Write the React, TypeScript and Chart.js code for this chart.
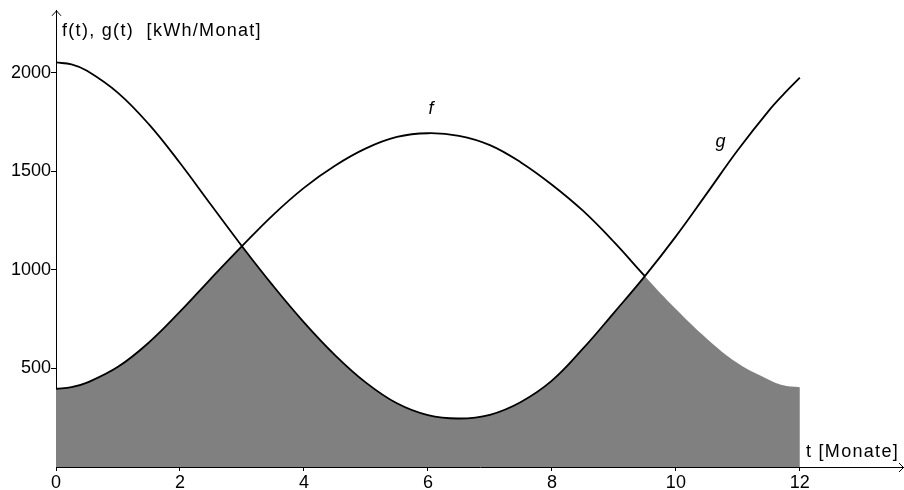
import { useEffect, useRef } from 'react';
import { Chart, registerables } from 'chart.js';

Chart.register(...registerables);

// months t
const tValues = [0, 0.25, 0.5, 1, 1.5, 2, 2.5, 3, 3.5, 4, 4.5, 5, 5.5, 6, 6.5, 7, 7.5, 8, 8.5, 9, 9.5, 10, 10.5, 11, 11.5, 11.75, 12];
// f(t) [kWh/Monat]
const fValues = [397, 405, 428, 508, 632, 788, 956, 1120, 1278, 1416, 1528, 1616, 1674, 1693, 1680, 1633, 1545, 1432, 1300, 1142, 968, 801, 651, 526, 443, 413, 405];
// g(t) [kWh/Monat]
const gValues = [2052, 2042, 2010, 1898, 1738, 1542, 1330, 1120, 920, 734, 568, 428, 323, 263, 246, 265, 330, 438, 600, 782, 968, 1170, 1388, 1608, 1808, 1895, 1975];

const xTickValues = [0, 2, 4, 6, 8, 10, 12];
const yTickValues = [500, 1000, 1500, 2000];
const fStrokeEnd = 9.5; // f is drawn only up to the second intersection

const FONT = '"Liberation Sans", Arial, Helvetica, sans-serif';

function tracePath(ctx: CanvasRenderingContext2D, pts: any[], y0: number) {
  ctx.beginPath();
  ctx.moveTo(pts[0].x, pts[0].y);
  for (let i = 1; i < pts.length; i++) {
    const p = pts[i - 1];
    const c = pts[i];
    ctx.bezierCurveTo(p.cp2x, p.cp2y, c.cp1x, c.cp1y, c.x, c.y);
  }
  ctx.lineTo(pts[pts.length - 1].x, y0);
  ctx.lineTo(pts[0].x, y0);
  ctx.closePath();
}

const fillPlugin = {
  id: 'minFill',
  beforeDatasetsDraw(chart: any) {
    const ctx = chart.ctx;
    const area = chart.chartArea;
    const y0 = chart.scales.y.getPixelForValue(0);
    const fm = chart.getDatasetMeta(0);
    const gm = chart.getDatasetMeta(1);
    fm.dataset.updateControlPoints(area, 'x');
    gm.dataset.updateControlPoints(area, 'x');
    ctx.save();
    tracePath(ctx, fm.data, y0);
    ctx.clip();
    tracePath(ctx, gm.data, y0);
    ctx.fillStyle = '#808080';
    ctx.fill();
    ctx.restore();
  },
};

const decoPlugin = {
  id: 'deco',
  afterDraw(chart: any) {
    const ctx = chart.ctx;
    const area = chart.chartArea;
    const xs = chart.scales.x;
    const ys = chart.scales.y;
    const ax = Math.round(area.left) + 0.5;
    const ay = Math.round(area.bottom) + 0.5;
    ctx.save();
    ctx.strokeStyle = '#000';
    ctx.lineWidth = 1;
    // y axis arrow
    ctx.beginPath();
    ctx.moveTo(ax - 4.5, area.top + 5);
    ctx.lineTo(ax, area.top);
    ctx.lineTo(ax + 4.5, area.top + 5);
    ctx.stroke();
    // x axis arrow
    ctx.beginPath();
    ctx.moveTo(area.right - 5, ay - 4.5);
    ctx.lineTo(area.right - 0.5, ay);
    ctx.lineTo(area.right - 5, ay + 4.5);
    ctx.stroke();

    ctx.fillStyle = '#000';
    ctx.font = `18px ${FONT}`;
    (ctx as any).letterSpacing = '1.3px';
    ctx.textBaseline = 'middle';
    ctx.textAlign = 'left';
    ctx.fillText('f(t), g(t)  [kWh/Monat]', area.left + 6, 31);
    ctx.textAlign = 'right';
    ctx.fillText('t [Monate]', area.right - 5, area.bottom - 15);

    (ctx as any).letterSpacing = '0px';
    ctx.font = `italic 18px ${FONT}`;
    ctx.textAlign = 'center';
    ctx.fillText('f', xs.getPixelForValue(6.05), ys.getPixelForValue(1818));
    ctx.fillText('g', xs.getPixelForValue(10.72), ys.getPixelForValue(1646));
    ctx.restore();
  },
};

export default function App() {
  const ref = useRef<HTMLCanvasElement | null>(null);

  useEffect(() => {
    document.body.style.margin = '0';
    const canvas = ref.current;
    if (!canvas) return;
    const fData = tValues.map((t, i) => ({ x: t, y: fValues[i] }));
    const gData = tValues.map((t, i) => ({ x: t, y: gValues[i] }));

    const chart = new Chart(canvas, {
      type: 'line',
      data: {
        datasets: [
          {
            label: 'f',
            data: fData,
            borderColor: '#000',
            borderWidth: 1.8,
            pointRadius: 0,
            fill: false,
            tension: 0.4,
            segment: {
              borderColor: (c: any) => (c.p0.parsed.x >= fStrokeEnd - 1e-9 ? 'rgba(0,0,0,0)' : '#000'),
            },
          },
          {
            label: 'g',
            data: gData,
            borderColor: '#000',
            borderWidth: 1.8,
            pointRadius: 0,
            fill: false,
            tension: 0.4,
          },
        ],
      },
      options: {
        animation: false,
        responsive: false,
        devicePixelRatio: 1,
        layout: { padding: { top: 10, right: 0, left: 0, bottom: 0 } },
        plugins: {
          legend: { display: false },
          tooltip: { enabled: false },
          title: { display: false },
        },
        scales: {
          x: {
            type: 'linear',
            min: 0,
            max: 13.68,
            z: 1,
            afterBuildTicks: (s: any) => {
              s.ticks = xTickValues.map((v) => ({ value: v }));
            },
            afterFit: (s: any) => {
              s.height = 23;
            },
            border: { display: true, color: '#000', width: 1 },
            grid: { display: true, drawOnChartArea: false, drawTicks: true, tickLength: 4, color: '#000' },
            ticks: {
              color: '#000',
              font: { family: FONT, size: 18 },
              padding: 1,
              maxRotation: 0,
              autoSkip: false,
              callback: (v: any) => String(v),
            },
          },
          y: {
            type: 'linear',
            min: 0,
            max: 2314,
            z: 1,
            afterBuildTicks: (s: any) => {
              s.ticks = yTickValues.map((v) => ({ value: v }));
            },
            afterFit: (s: any) => {
              s.width = 56;
            },
            border: { display: true, color: '#000', width: 1 },
            grid: { display: true, drawOnChartArea: false, drawTicks: true, tickLength: 5, color: '#000' },
            ticks: {
              color: '#000',
              font: { family: FONT, size: 18 },
              padding: 0,
              autoSkip: false,
              callback: (v: any) => String(v),
            },
          },
        },
      },
      plugins: [fillPlugin, decoPlugin],
    });
    return () => chart.destroy();
  }, []);

  return <canvas ref={ref} width={904} height={490} style={{ display: 'block' }} />;
}
